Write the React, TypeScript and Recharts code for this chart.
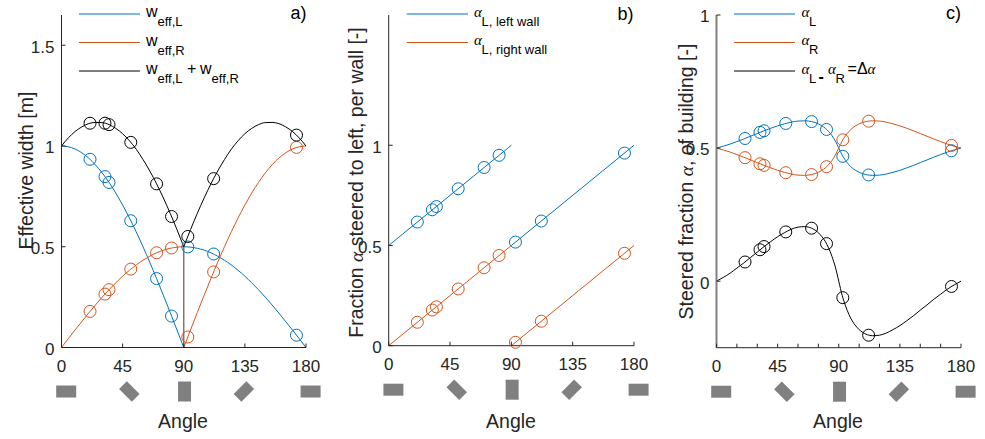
import React from 'react';
import { LineChart, Line, XAxis, YAxis } from 'recharts';

const BLUE = '#0072BD';
const ORANGE = '#D95319';
const BLACK = '#000000';
const AXIS = '#262626';
const ICON = '#808080';
const FONT = '"Liberation Sans", Arial, Helvetica, sans-serif';
const GREEK = '"Liberation Serif", "DejaVu Serif", serif';

// ---- categories / ticks ----
const ANGLE_TICKS = [0, 45, 90, 135, 180];
const MINOR_TICKS_C = [0, 15, 30, 45, 60, 75, 90, 105, 120, 135, 150, 165, 180];
const Y_TICKS_A = [0, 0.5, 1, 1.5];
const Y_TICKS_B = [0, 0.5, 1];
const Y_TICKS_C = [0, 0.5, 1];

// ---- measured points (circles) ----
const MEAS_ANGLES = [21, 32, 35, 51, 70, 81, 93, 112, 173];
const W_L_MEAS = [0.934, 0.848, 0.819, 0.629, 0.342, 0.156, 0.499, 0.464, 0.061];
const W_R_MEAS = [0.179, 0.265, 0.287, 0.389, 0.47, 0.494, 0.052, 0.375, 0.993];
const W_SUM_MEAS = [1.113, 1.113, 1.106, 1.018, 0.812, 0.65, 0.551, 0.838, 1.054];
const A_LEFT_WALL_MEAS = [0.617, 0.678, 0.694, 0.783, 0.889, 0.95, 0.517, 0.622, 0.961];
const A_RIGHT_WALL_MEAS = [0.117, 0.178, 0.194, 0.283, 0.389, 0.45, 0.017, 0.122, 0.461];
const A_L_MEAS = [0.536, 0.559, 0.565, 0.5925, 0.5995, 0.57, 0.469, 0.399, 0.49];
const A_R_MEAS = [0.464, 0.441, 0.435, 0.4075, 0.4005, 0.43, 0.531, 0.601, 0.51];
const D_ALPHA_MEAS = [0.072, 0.118, 0.13, 0.185, 0.199, 0.141, -0.062, -0.203, -0.02];

// ---- panel a curves ----
const ANG_0_90 = [0, 5, 10, 15, 20, 25, 30, 35, 40, 45, 50, 55, 60, 65, 70, 75, 80, 85, 90];
const ANG_90_180 = [90, 95, 100, 105, 110, 115, 120, 125, 130, 135, 140, 145, 150, 155, 160, 165, 170, 175, 180];
const W_L_0_90 = [1, 0.996, 0.985, 0.966, 0.94, 0.906, 0.866, 0.819, 0.766, 0.707, 0.643, 0.574, 0.5, 0.423, 0.342, 0.259, 0.174, 0.087, 0];
const W_L_90_180 = [0.5, 0.498, 0.492, 0.483, 0.47, 0.453, 0.433, 0.41, 0.383, 0.354, 0.321, 0.287, 0.25, 0.211, 0.171, 0.129, 0.087, 0.044, 0];
const W_R_0_90 = [0, 0.044, 0.087, 0.129, 0.171, 0.211, 0.25, 0.287, 0.321, 0.354, 0.383, 0.41, 0.433, 0.453, 0.47, 0.483, 0.492, 0.498, 0.5];
const W_R_90_180 = [0, 0.087, 0.174, 0.259, 0.342, 0.423, 0.5, 0.574, 0.643, 0.707, 0.766, 0.819, 0.866, 0.906, 0.94, 0.966, 0.985, 0.996, 1];
const W_SUM_0_90 = [1, 1.04, 1.072, 1.095, 1.111, 1.117, 1.116, 1.106, 1.087, 1.061, 1.026, 0.984, 0.933, 0.876, 0.812, 0.742, 0.666, 0.585, 0.5];
const W_SUM_90_180 = [0.5, 0.585, 0.666, 0.742, 0.812, 0.876, 0.933, 0.984, 1.026, 1.061, 1.087, 1.106, 1.116, 1.117, 1.111, 1.095, 1.072, 1.04, 1];
const JUMP_ANG = [90, 90];
const W_L_JUMP = [0, 0.5];
const W_R_JUMP = [0.5, 0];

// ---- panel b lines ----
const ANG_B1 = [0, 90];
const ANG_B2 = [90, 180];
const A_LEFT_WALL_1 = [0.5, 1];
const A_LEFT_WALL_2 = [0.5, 1];
const A_RIGHT_WALL_1 = [0, 0.5];
const A_RIGHT_WALL_2 = [0, 0.5];

// ---- panel c curves ----
const ANG_C = [0, 5, 10, 15, 20, 25, 30, 35, 40, 45, 50, 55, 60, 65, 70, 75,
  77.5, 80, 82.5, 85, 87.5, 90, 92.5, 95, 97.5, 100, 102.5, 105,
  110, 115, 120, 125, 130, 135, 140, 145, 150, 155, 160, 165, 170, 175, 180];
const A_L_C = [0.5, 0.507, 0.515, 0.5245, 0.534, 0.5445, 0.5545, 0.565, 0.5745, 0.5835, 0.591, 0.5975, 0.6015, 0.6025, 0.5995, 0.591,
  0.584, 0.575, 0.5625, 0.5465, 0.5265, 0.5, 0.4735, 0.4535, 0.4375, 0.425, 0.416, 0.409,
  0.4005, 0.3975, 0.3985, 0.4025, 0.409, 0.4165, 0.4255, 0.435, 0.4455, 0.4555, 0.466, 0.4755, 0.485, 0.493, 0.5];
const A_R_C = [0.5, 0.493, 0.485, 0.4755, 0.466, 0.4555, 0.4455, 0.435, 0.4255, 0.4165, 0.409, 0.4025, 0.3985, 0.3975, 0.4005, 0.409,
  0.416, 0.425, 0.4375, 0.4535, 0.4735, 0.5, 0.5265, 0.5465, 0.5625, 0.575, 0.584, 0.591,
  0.5995, 0.6025, 0.6015, 0.5975, 0.591, 0.5835, 0.5745, 0.565, 0.5545, 0.5445, 0.534, 0.5245, 0.515, 0.507, 0.5];
const D_ALPHA_C = [0, 0.014, 0.03, 0.049, 0.068, 0.089, 0.109, 0.13, 0.149, 0.167, 0.182, 0.195, 0.203, 0.205, 0.199, 0.182,
  0.168, 0.15, 0.125, 0.093, 0.053, 0, -0.053, -0.093, -0.125, -0.15, -0.168, -0.182,
  -0.199, -0.205, -0.203, -0.195, -0.182, -0.167, -0.149, -0.13, -0.109, -0.089, -0.068, -0.049, -0.03, -0.014, 0];

const zip = (xs: number[], ys: number[]) => xs.map((x, i) => ({ x, y: ys[i] }));

// icon horizontal offsets relative to tick (style)
const ICON_DX = [4.7, 6.7, 0.8, -1, 4.6];

function BuildingIcon({ angle, cx, cy }: { angle: number; cx: number; cy: number }) {
  if (angle === 90) {
    return <rect x={cx - 6.5} y={cy - 10} width={13} height={20} fill={ICON} />;
  }
  if (angle === 45 || angle === 135) {
    const rot = angle === 45 ? 45 : -45;
    return <rect x={cx - 9} y={cy - 5.5} width={18} height={11} fill={ICON} transform={`rotate(${rot} ${cx} ${cy})`} />;
  }
  return <rect x={cx - 10} y={cy - 6} width={20} height={12} fill={ICON} />;
}

const XTick = (props: any) => {
  const { x, y, payload } = props;
  const v = payload.value;
  const idx = ANGLE_TICKS.indexOf(v);
  return (
    <g>
      <line x1={x} y1={y} x2={x} y2={y - 4} stroke={AXIS} strokeWidth={1} />
      {idx >= 0 && (
        <text x={x} y={y + 24} textAnchor="middle" fontSize={17} fill={AXIS} fontFamily={FONT}>{v}</text>
      )}
      {idx >= 0 && <BuildingIcon angle={v} cx={x + ICON_DX[idx]} cy={y + 44} />}
    </g>
  );
};

const YTick = (props: any) => {
  const { x, y, payload } = props;
  return (
    <g>
      <line x1={x} y1={y} x2={x + 4} y2={y} stroke={AXIS} strokeWidth={1} />
      <text x={x - 7} y={y + 7.4} textAnchor="end" fontSize={17} fill={AXIS} fontFamily={FONT}>{String(payload.value)}</text>
    </g>
  );
};

const curve = (key: string, data: any[], color: string, type: any = 'monotone') => (
  <Line key={key} data={data} dataKey="y" type={type} stroke={color} strokeWidth={1} dot={false}
    activeDot={false} isAnimationActive={false} legendType="none" />
);

const marks = (key: string, data: any[], color: string) => (
  <Line key={key} data={data} dataKey="y" stroke="none" strokeWidth={0}
    dot={{ r: 6, stroke: color, strokeWidth: 1, fill: 'none' }}
    activeDot={false} isAnimationActive={false} legendType="none" />
);

function Panel({ left, width, margin, yDomain, yTicks, xTicks, yAxisLine, children }: any) {
  // axes take 1px: margins compensate so plot area stays where intended
  const m = { top: margin.top, right: margin.right, left: margin.left - 1, bottom: margin.bottom - 1 };
  return (
    <div style={{ position: 'absolute', left, top: 0 }}>
      <LineChart width={width} height={439} margin={m}>
        <XAxis dataKey="x" type="number" domain={[0, 180]} ticks={xTicks} interval={0}
          height={1} tickSize={0} tickMargin={0} tickLine={false}
          axisLine={{ stroke: AXIS, strokeWidth: 1 }} tick={<XTick />} allowDataOverflow />
        <YAxis type="number" domain={yDomain} ticks={yTicks} interval={0} width={1}
          tickSize={0} tickMargin={0} tickLine={false}
          axisLine={yAxisLine} tick={<YTick />} />
        {children}
      </LineChart>
    </div>
  );
}

const labelText = { fontFamily: FONT, fill: AXIS } as const;

export default function App() {
  return (
    <div style={{ position: 'absolute', left: 0, top: 0, width: 985, height: 439, background: '#fff', overflow: 'hidden' }}>
      <Panel left={0} width={330} margin={{ top: 15, left: 61.5, right: 24, bottom: 91.5 }}
        yDomain={[0, 1.65]} yTicks={Y_TICKS_A} xTicks={ANGLE_TICKS} yAxisLine={{ stroke: AXIS, strokeWidth: 1 }}>
        {curve('bl1', zip(ANG_0_90, W_L_0_90), BLUE)}
        {curve('bl2', zip(ANG_90_180, W_L_90_180), BLUE)}
        {curve('blj', zip(JUMP_ANG, W_L_JUMP), BLUE, 'linear')}
        {curve('or1', zip(ANG_0_90, W_R_0_90), ORANGE)}
        {curve('or2', zip(ANG_90_180, W_R_90_180), ORANGE)}
        {curve('orj', zip(JUMP_ANG, W_R_JUMP), ORANGE, 'linear')}
        {curve('bk1', zip(ANG_0_90, W_SUM_0_90), BLACK)}
        {curve('bk2', zip(ANG_90_180, W_SUM_90_180), BLACK)}
        {marks('mbl', zip(MEAS_ANGLES, W_L_MEAS), BLUE)}
        {marks('mor', zip(MEAS_ANGLES, W_R_MEAS), ORANGE)}
        {marks('mbk', zip(MEAS_ANGLES, W_SUM_MEAS), BLACK)}
      </Panel>

      <Panel left={328} width={330} margin={{ top: 15, left: 60.7, right: 24, bottom: 93.3 }}
        yDomain={[0, 1.65]} yTicks={Y_TICKS_B} xTicks={ANGLE_TICKS} yAxisLine={{ stroke: AXIS, strokeWidth: 1 }}>
        {curve('lw1', zip(ANG_B1, A_LEFT_WALL_1), BLUE, 'linear')}
        {curve('lw2', zip(ANG_B2, A_LEFT_WALL_2), BLUE, 'linear')}
        {curve('rw1', zip(ANG_B1, A_RIGHT_WALL_1), ORANGE, 'linear')}
        {curve('rw2', zip(ANG_B2, A_RIGHT_WALL_2), ORANGE, 'linear')}
        {marks('mlw', zip(MEAS_ANGLES, A_LEFT_WALL_MEAS), BLUE)}
        {marks('mrw', zip(MEAS_ANGLES, A_RIGHT_WALL_MEAS), ORANGE)}
      </Panel>

      <Panel left={655} width={330} margin={{ top: 15, left: 61.5, right: 24, bottom: 91.3 }}
        yDomain={[-0.25, 1]} yTicks={Y_TICKS_C} xTicks={MINOR_TICKS_C} yAxisLine={{ stroke: '#808080', strokeWidth: 2 }}>
        {curve('al', zip(ANG_C, A_L_C), BLUE)}
        {curve('ar', zip(ANG_C, A_R_C), ORANGE)}
        {curve('da', zip(ANG_C, D_ALPHA_C), BLACK)}
        {marks('mal', zip(MEAS_ANGLES, A_L_MEAS), BLUE)}
        {marks('mar', zip(MEAS_ANGLES, A_R_MEAS), ORANGE)}
        {marks('mda', zip(MEAS_ANGLES, D_ALPHA_MEAS), BLACK)}
      </Panel>

      <svg width={985} height={439} style={{ position: 'absolute', left: 0, top: 0, pointerEvents: 'none' }}>
        {/* panel letters */}
        <text x={306.5} y={19} textAnchor="end" fontSize={18} {...labelText} fill="#000">a)</text>
        <text x={633.5} y={19.5} textAnchor="end" fontSize={18} {...labelText} fill="#000">b)</text>
        <text x={961} y={19} textAnchor="end" fontSize={18} {...labelText} fill="#000">c)</text>

        {/* x labels */}
        <text x={183} y={428} textAnchor="middle" fontSize={19.5} {...labelText}>Angle</text>
        <text x={511} y={428} textAnchor="middle" fontSize={19.5} {...labelText}>Angle</text>
        <text x={838} y={428} textAnchor="middle" fontSize={19.5} {...labelText}>Angle</text>

        {/* y labels */}
        <text transform="translate(33,170.5) rotate(-90)" textAnchor="middle" fontSize={19.5} {...labelText}>Effective width [m]</text>
        <text transform="translate(363,182.5) rotate(-90)" textAnchor="middle" fontSize={19.5} {...labelText}>
          Fraction <tspan fontFamily={GREEK} fontStyle="italic">α</tspan> steered to left, per wall [-]
        </text>
        <text transform="translate(693,181.5) rotate(-90)" textAnchor="middle" fontSize={19.5} {...labelText}>
          Steered fraction <tspan fontFamily={GREEK} fontStyle="italic">α</tspan>, of building [-]
        </text>

        {/* legend a */}
        <g fontFamily={FONT} fill="#000">
          <line x1={79} y1={14} x2={140} y2={14} stroke={BLUE} strokeWidth={1} />
          <text x={146} y={17} fontSize={16}>w</text>
          <text x={157.5} y={26} fontSize={13}>eff,L</text>
          <line x1={79} y1={42.5} x2={140} y2={42.5} stroke={ORANGE} strokeWidth={1} />
          <text x={146} y={45.5} fontSize={16}>w</text>
          <text x={157.5} y={54.5} fontSize={13}>eff,R</text>
          <line x1={79} y1={71} x2={140} y2={71} stroke={BLACK} strokeWidth={1} />
          <text x={146} y={74} fontSize={16}>w</text>
          <text x={157.5} y={83} fontSize={13}>eff,L</text>
          <text x={187} y={74} fontSize={16}>+</text>
          <text x={200} y={74} fontSize={16}>w</text>
          <text x={211.6} y={83} fontSize={13}>eff,R</text>
        </g>

        {/* legend b */}
        <g fontFamily={FONT} fill="#000">
          <line x1={406.7} y1={14} x2={468} y2={14} stroke={BLUE} strokeWidth={1} />
          <text x={474} y={16.5} fontSize={15} fontFamily={GREEK} fontStyle="italic">α</text>
          <text x={481.5} y={25.5} fontSize={13}>L, left wall</text>
          <line x1={406.7} y1={42.5} x2={468} y2={42.5} stroke={ORANGE} strokeWidth={1} />
          <text x={474} y={45} fontSize={15} fontFamily={GREEK} fontStyle="italic">α</text>
          <text x={481.5} y={54} fontSize={13}>L, right wall</text>
        </g>

        {/* legend c */}
        <g fontFamily={FONT} fill="#000">
          <line x1={734} y1={14} x2={795} y2={14} stroke={BLUE} strokeWidth={1} />
          <text x={801.5} y={16.7} fontSize={15} fontFamily={GREEK} fontStyle="italic">α</text>
          <text x={809} y={25.5} fontSize={13}>L</text>
          <line x1={734} y1={42.5} x2={795} y2={42.5} stroke={ORANGE} strokeWidth={1} />
          <text x={801.5} y={45} fontSize={15} fontFamily={GREEK} fontStyle="italic">α</text>
          <text x={809} y={54} fontSize={13}>R</text>
          <line x1={734} y1={71} x2={795} y2={71} stroke={BLACK} strokeWidth={1} />
          <text x={801.5} y={74} fontSize={15} fontFamily={GREEK} fontStyle="italic">α</text>
          <text x={809} y={82.5} fontSize={13}>L</text>
          <text x={818.5} y={82} fontSize={16} fontWeight="bold">-</text>
          <text x={828} y={74} fontSize={15} fontFamily={GREEK} fontStyle="italic">α</text>
          <text x={835.5} y={83} fontSize={13}>R</text>
          <text x={847.5} y={74} fontSize={16}>=</text>
          <text x={857} y={74} fontSize={16}>Δ</text>
          <text x={867.5} y={74} fontSize={15} fontFamily={GREEK} fontStyle="italic">α</text>
        </g>
      </svg>
    </div>
  );
}
